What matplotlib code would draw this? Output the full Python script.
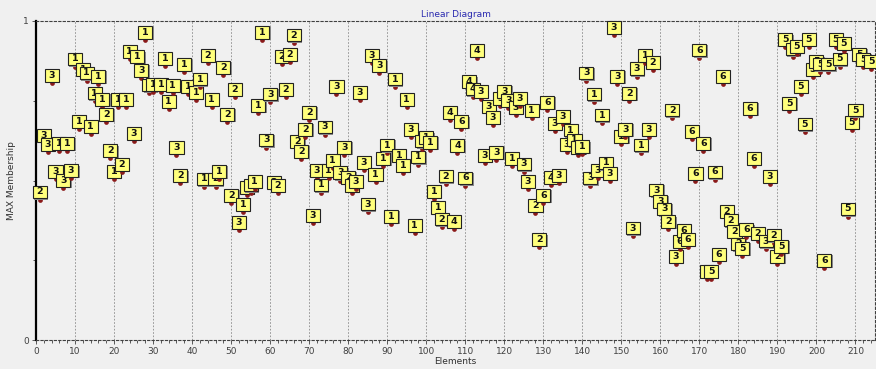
import matplotlib
matplotlib.use("Agg")
import matplotlib.pyplot as plt
from matplotlib.patches import Rectangle

# element index, MAX membership value and winning cluster
elements = [1, 2, 3, 4, 5, 6, 7, 8, 9, 10,
            11, 12, 13, 14, 15, 16, 17, 18, 19, 20,
            21, 22, 23, 24, 25, 26, 27, 28, 29, 30,
            32, 33, 34, 35, 36, 37, 38, 39, 41, 42,
            43, 44, 45, 46, 47, 48, 49, 50, 51, 52,
            53, 54, 55, 56, 57, 58, 59, 60, 61, 62,
            63, 64, 65, 66, 67, 68, 69, 70, 71, 72,
            73, 74, 75, 76, 77, 78, 79, 80, 81, 82,
            83, 84, 85, 86, 87, 88, 89, 90, 91, 92,
            93, 94, 95, 96, 97, 98, 99, 100, 101, 102,
            103, 104, 105, 106, 107, 108, 109, 110, 111, 112,
            113, 114, 115, 116, 117, 118, 119, 120, 121, 122,
            123, 124, 125, 126, 127, 128, 129, 130, 131, 132,
            133, 134, 135, 136, 137, 138, 139, 140, 141, 142,
            143, 144, 145, 146, 147, 148, 149, 150, 151, 152,
            153, 154, 155, 156, 157, 158, 159, 160, 161, 162,
            163, 164, 165, 166, 167, 168, 169, 170, 171, 172,
            173, 174, 175, 176, 177, 178, 179, 180, 181, 182,
            183, 184, 185, 187, 188, 189, 190, 191, 192, 193,
            194, 195, 196, 197, 198, 199, 200, 201, 202, 203,
            205, 206, 207, 208, 209, 210, 211, 212, 214]

membership = [0.440, 0.617, 0.588, 0.805, 0.504, 0.592, 0.475, 0.593, 0.507, 0.857,
              0.661, 0.825, 0.813, 0.646, 0.750, 0.802, 0.731, 0.684, 0.569, 0.504,
              0.729, 0.526, 0.729, 0.880, 0.624, 0.864, 0.822, 0.940, 0.775, 0.778,
              0.778, 0.859, 0.724, 0.773, 0.580, 0.491, 0.839, 0.771, 0.752, 0.794,
              0.481, 0.867, 0.731, 0.481, 0.504, 0.831, 0.684, 0.430, 0.761, 0.345,
              0.400, 0.455, 0.462, 0.472, 0.711, 0.940, 0.603, 0.747, 0.470, 0.460,
              0.864, 0.761, 0.870, 0.932, 0.598, 0.567, 0.637, 0.690, 0.366, 0.507,
              0.462, 0.644, 0.507, 0.538, 0.770, 0.500, 0.580, 0.486, 0.460, 0.473,
              0.752, 0.533, 0.402, 0.868, 0.494, 0.836, 0.545, 0.587, 0.363, 0.794,
              0.554, 0.524, 0.731, 0.637, 0.334, 0.550, 0.600, 0.610, 0.596, 0.442,
              0.392, 0.355, 0.490, 0.690, 0.347, 0.585, 0.660, 0.484, 0.786, 0.763,
              0.883, 0.755, 0.554, 0.708, 0.674, 0.564, 0.734, 0.755, 0.726, 0.545,
              0.705, 0.733, 0.528, 0.472, 0.695, 0.397, 0.290, 0.430, 0.721, 0.486,
              0.655, 0.491, 0.676, 0.590, 0.634, 0.603, 0.580, 0.582, 0.813, 0.484,
              0.747, 0.507, 0.681, 0.531, 0.498, 0.956, 0.802, 0.613, 0.636, 0.749,
              0.327, 0.826, 0.587, 0.867, 0.637, 0.845, 0.446, 0.411, 0.387, 0.347,
              0.697, 0.237, 0.285, 0.319, 0.291, 0.630, 0.498, 0.885, 0.593, 0.190,
              0.190, 0.503, 0.244, 0.803, 0.378, 0.352, 0.317, 0.277, 0.264, 0.322,
              0.702, 0.546, 0.310, 0.286, 0.488, 0.305, 0.237, 0.270, 0.917, 0.718,
              0.888, 0.896, 0.771, 0.653, 0.917, 0.823, 0.848, 0.841, 0.225, 0.841,
              0.917, 0.857, 0.906, 0.387, 0.658, 0.697, 0.871, 0.856, 0.850]

cluster = ["2", "3", "3", "3", "3", "1", "3", "1", "3", "1",
           "1", "1", "1", "1", "1", "1", "1", "2", "2", "1",
           "1", "2", "1", "1", "3", "1", "3", "1", "1", "1",
           "1", "1", "1", "1", "3", "2", "1", "1", "1", "1",
           "1", "2", "1", "2", "1", "2", "2", "2", "2", "3",
           "1", "1", "1", "1", "1", "1", "3", "3", "2", "2",
           "2", "2", "2", "2", "2", "2", "2", "2", "3", "3",
           "1", "3", "1", "1", "3", "3", "3", "2", "3", "3",
           "3", "3", "3", "3", "1", "3", "1", "1", "1", "1",
           "1", "1", "1", "3", "1", "1", "1", "1", "1", "1",
           "1", "2", "2", "4", "4", "4", "6", "6", "4", "4",
           "4", "3", "3", "3", "3", "3", "3", "3", "3", "1",
           "3", "3", "3", "3", "1", "2", "2", "6", "6", "4",
           "3", "3", "3", "3", "1", "1", "1", "1", "3", "3",
           "1", "3", "1", "1", "3", "3", "3", "1", "3", "2",
           "3", "3", "1", "1", "3", "2", "3", "3", "3", "2",
           "2", "3", "6", "6", "6", "6", "6", "6", "6", "5",
           "5", "6", "6", "6", "2", "2", "2", "2", "5", "6",
           "6", "6", "2", "3", "3", "2", "2", "5", "5", "5",
           "5", "5", "5", "5", "5", "5", "5", "5", "6", "5",
           "5", "5", "5", "5", "5", "5", "5", "5", "5"]

fig = plt.figure(figsize=(8.76, 3.69), dpi=100, facecolor="#f0f0f0")
ax = fig.add_axes([36 / 876, 1 - 340 / 369, 839 / 876, 319 / 369])
ax.set_facecolor("#f0f0f0")
ax.set_xlim(0, 215)
ax.set_ylim(0, 1)

# label boxes sized in data units (axes limits are fixed)
bw, bh, lift = 3.6, 0.040, 0.004
for i, (x, v, c) in enumerate(zip(elements, membership, cluster)):
    z = 3 + i * 0.01
    ax.plot(x, v, "o", ms=3.4, color="#8b1a1a", mec="none", zorder=z, clip_on=False)
    ax.add_patch(Rectangle((x - bw / 2 + 0.35, v + lift - 0.004), bw, bh,
                           fc="#8c8c8c", ec="none", zorder=z + 0.002, clip_on=False))
    ax.add_patch(Rectangle((x - bw / 2, v + lift), bw, bh, fc="#ffff7c",
                           ec="#222222", lw=0.8, zorder=z + 0.004, clip_on=False))
    ax.text(x, v + lift + bh / 2, c, ha="center", va="center", fontsize=6.8,
            fontweight="bold", color="#111111", zorder=z + 0.006, clip_on=False)

ax.set_xticks(range(0, 211, 10))
ax.set_xticks(range(0, 216, 2), minor=True)
ax.set_yticks([0, 1])
ax.set_yticklabels(["0", "1"])
ax.set_yticks([0.25, 0.5, 0.75], minor=True)
ax.tick_params(which="both", labelsize=6.5, labelcolor="#404040", color="#404040", width=0.6)
ax.tick_params(which="major", length=3, pad=2)
ax.tick_params(which="minor", length=2)

ax.grid(axis="x", which="major", linestyle=(0, (2, 2)), color="#8a8a8a", lw=0.6, zorder=1)
ax.set_axisbelow(True)

for side in ["top", "bottom", "right"]:
    ax.spines[side].set_linestyle((0, (2, 2)))
    ax.spines[side].set_color("#404040")
    ax.spines[side].set_linewidth(0.8)
ax.spines["left"].set_color("black")
ax.spines["left"].set_linewidth(1.6)

ax.set_xlabel("Elements", fontsize=6.5, color="#303030", labelpad=1)
ax.set_ylabel("MAX Membership", fontsize=6.5, color="#303030", labelpad=5)
ax.set_title("Linear Diagram", fontsize=6.5, color="#2a2ab0", pad=3)

fig.savefig("out.png", dpi=100, facecolor=fig.get_facecolor())
